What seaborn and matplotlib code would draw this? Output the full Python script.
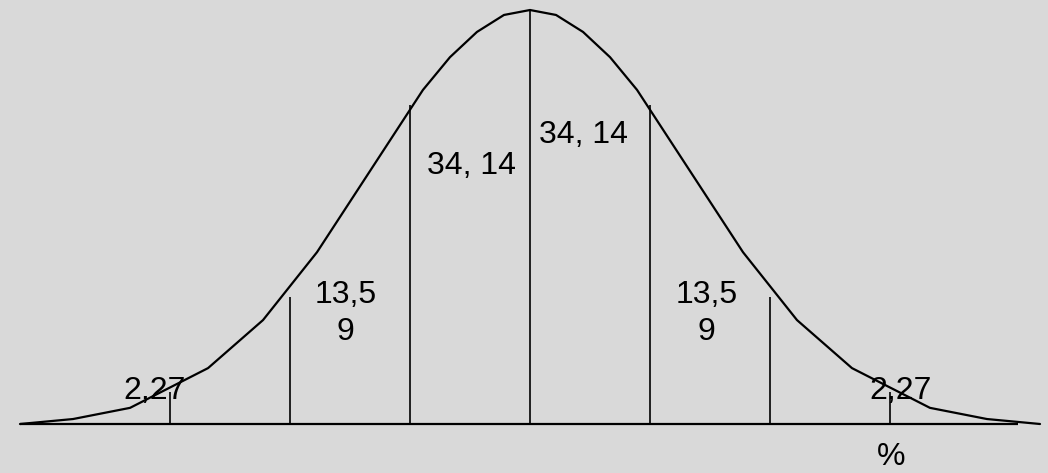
import numpy as np
import pandas as pd
import matplotlib
matplotlib.use('Agg')
import matplotlib.pyplot as plt
import seaborn as sns

# Curve: x in standard deviations, height as % of the peak
curve_x = [-4.25, -3.808, -3.333, -2.683, -2.225, -1.775, -0.892, -0.667, -0.442, -0.217, 0.0,
           0.217, 0.442, 0.667, 0.892, 1.775, 2.225, 2.683, 3.333, 3.808, 4.25]
curve_y = [0.0, 1.2, 3.9, 13.5, 25.1, 41.5, 80.7, 88.6, 94.7, 98.8, 100.0,
           98.8, 94.7, 88.6, 80.7, 41.5, 25.1, 13.5, 3.9, 1.2, 0.0]

# Vertical dividers at each sigma and their heights
sigma_x = [-3, -2, -1, 0, 1, 2, 3]
sigma_h = [7.7, 30.7, 77.0, 100.0, 77.0, 30.7, 7.7]

# Area labels
labels = ['2,27', '13,5\n9', '34, 14', '34, 14', '13,5\n9', '2,27']
label_x = [-3.13, -1.54, -0.49, 0.45, 1.47, 3.09]
label_y = [7.9, 26.6, 62.3, 69.8, 26.6, 7.9]

baseline_x = [-4.25, 4.07]

df = pd.DataFrame({'x': curve_x, 'y': curve_y})

sns.set_style('white')
plt.rcParams['font.family'] = ['Liberation Sans', 'DejaVu Sans']
bg = '#d9d9d9'

fig = plt.figure(figsize=(10.48, 4.73), dpi=100, facecolor=bg)
ax = fig.add_axes([0, 0, 1, 1])
ax.set_facecolor(bg)

sns.lineplot(data=df, x='x', y='y', sort=False, estimator=None, color='black', linewidth=1.6, ax=ax)
ax.vlines(sigma_x, 0, sigma_h, color='black', linewidth=1.2)
ax.hlines(0, baseline_x[0], baseline_x[1], color='black', linewidth=1.6)

for t, x, y in zip(labels, label_x, label_y):
    ax.text(x, y, t, ha='center', va='center', fontsize=23, linespacing=1.3, color='black')
ax.text(3.01, -8.0, '%', ha='center', va='center', fontsize=23, color='black')

ax.set_xlim(-530 / 120, 518 / 120)
ax.set_ylim(-49 / 4.14, 424 / 4.14)
ax.axis('off')

fig.savefig('out.png', dpi=100, facecolor=bg)
